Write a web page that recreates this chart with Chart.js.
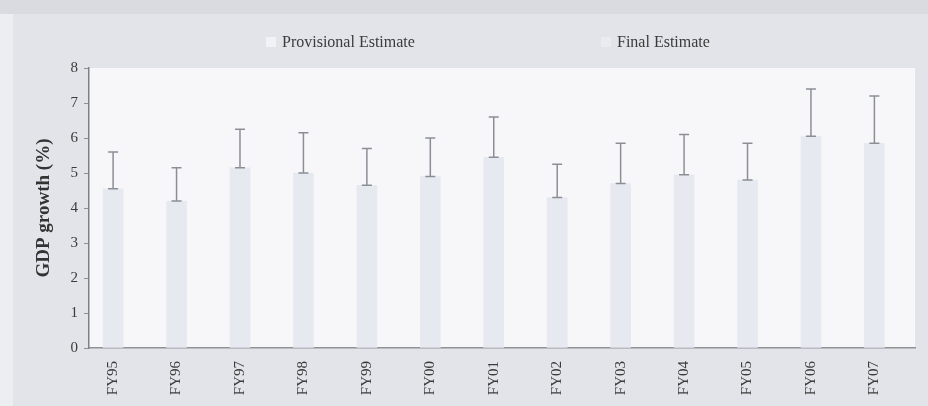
<!DOCTYPE html>
<html>
<head>
<meta charset="utf-8">
<script src="https://cdn.jsdelivr.net/npm/chart.js@4"></script>
<style>
  html, body { margin: 0; padding: 0; background: #eceef1; }
  #wrap { position: relative; width: 928px; height: 406px; }
  #legend { position: absolute; top: 33px; left: 0; width: 928px; height: 20px;
            font-family: "Liberation Serif", serif; font-size: 16px; color: #3b3b3b; }
  .item { position: absolute; white-space: nowrap; }
  .swatch { display: inline-block; width: 10px; height: 10px; margin-right: 6px; vertical-align: 0px; }
</style>
</head>
<body>
<div id="wrap">
  <canvas id="gdpChart" width="928" height="406"></canvas>
  <div id="legend"></div>
</div>
<script>
const years = ['FY95', 'FY96', 'FY97', 'FY98', 'FY99', 'FY00', 'FY01', 'FY02', 'FY03', 'FY04', 'FY05', 'FY06', 'FY07'];
const finalEstimate = [4.55, 4.2, 5.15, 5.0, 4.65, 4.9, 5.45, 4.3, 4.7, 4.95, 4.8, 6.05, 5.85];
const provisionalEstimate = [5.6, 5.15, 6.25, 6.15, 5.7, 6.0, 6.6, 5.25, 5.85, 6.1, 5.85, 7.4, 7.2];
const yTicks = [0, 1, 2, 3, 4, 5, 6, 7, 8];

const serif = '"Liberation Serif", "DejaVu Serif", serif';

// panel colours behind the plot
const backdrop = {
    id: 'backdrop',
    beforeDraw(chart) {
        const ctx = chart.ctx;
        const a = chart.chartArea;
        ctx.save();
        ctx.fillStyle = '#eceef1';
        ctx.fillRect(0, 0, chart.width, chart.height);
        ctx.fillStyle = '#d9dbe0';
        ctx.fillRect(0, 0, chart.width, 14);
        ctx.fillStyle = '#e2e4e9';
        ctx.fillRect(13, 14, chart.width - 13, chart.height - 14);
        ctx.fillStyle = '#f7f7f9';
        ctx.fillRect(a.left, a.top, a.right - a.left, a.bottom - a.top);
        ctx.restore();
    }
};

// whiskers from the final estimate up to the provisional estimate
const whiskers = {
    id: 'whiskers',
    afterDatasetsDraw(chart) {
        const ctx = chart.ctx;
        const xs = chart.scales.x;
        const ys = chart.scales.y;
        ctx.save();
        ctx.strokeStyle = '#8b8f95';
        ctx.lineWidth = 1.5;
        years.forEach((y, i) => {
            const x = xs.getPixelForValue(i);
            const lo = ys.getPixelForValue(finalEstimate[i]);
            const hi = ys.getPixelForValue(provisionalEstimate[i]);
            ctx.beginPath();
            ctx.moveTo(x, lo);
            ctx.lineTo(x, hi);
            ctx.moveTo(x - 5, lo);
            ctx.lineTo(x + 5, lo);
            ctx.moveTo(x - 5, hi);
            ctx.lineTo(x + 5, hi);
            ctx.stroke();
        });
        ctx.restore();
    }
};

const ctx = document.getElementById('gdpChart').getContext('2d');
const chart = new Chart(ctx, {
    type: 'bar',
    data: {
        datasets: [{
            label: 'Final Estimate',
            data: finalEstimate.map((v, i) => ({ x: i, y: v })),
            backgroundColor: '#e6e9f0',
            borderWidth: 0,
            barThickness: 20
        }]
    },
    options: {
        responsive: false,
        animation: false,
        layout: { padding: { left: 33, top: 68, right: 13, bottom: 0 } },
        plugins: {
            legend: { display: false },
            tooltip: { enabled: false }
        },
        scales: {
            x: {
                type: 'linear',
                offset: false,
                min: -0.38,
                max: 12.64,
                afterFit: s => { s.height = 58; },
                afterBuildTicks: s => { s.ticks = years.map((y, i) => ({ value: i })); },
                grid: { display: false },
                border: { color: '#8e9196', width: 1.5 },
                ticks: {
                    callback: v => years[v],
                    minRotation: 90,
                    maxRotation: 90,
                    padding: 5,
                    color: '#3b3b3b',
                    font: { family: serif, size: 15 }
                }
            },
            y: {
                min: 0,
                max: 8,
                afterFit: s => { s.width = 56; },
                afterBuildTicks: s => { s.ticks = yTicks.map(v => ({ value: v })); },
                grid: { drawOnChartArea: false, tickLength: 5, color: '#8e9196' },
                border: { color: '#7d8086', width: 1.5 },
                ticks: {
                    padding: 6,
                    color: '#3b3b3b',
                    font: { family: serif, size: 15 }
                },
                title: {
                    display: true,
                    text: 'GDP growth (%)',
                    color: '#333',
                    padding: { top: 0, bottom: 4 },
                    font: { family: serif, size: 19, weight: 'bold' }
                }
            }
        }
    },
    plugins: [backdrop, whiskers]
});

// legend in HTML
const legendItems = [
    { text: 'Provisional Estimate', left: 266, swatch: '#f1f2f5' },
    { text: 'Final Estimate', left: 601, swatch: '#e9ebf0' }
];
const legend = document.getElementById('legend');
legendItems.forEach(item => {
    const el = document.createElement('span');
    el.className = 'item';
    el.style.left = item.left + 'px';
    const sw = document.createElement('span');
    sw.className = 'swatch';
    sw.style.background = item.swatch;
    el.appendChild(sw);
    el.appendChild(document.createTextNode(item.text));
    legend.appendChild(el);
});
</script>
</body>
</html>
